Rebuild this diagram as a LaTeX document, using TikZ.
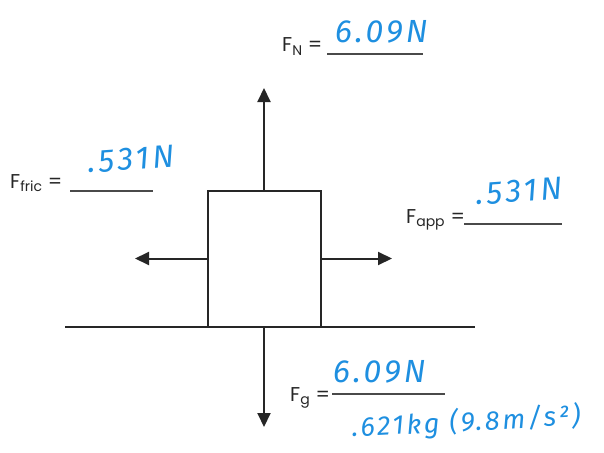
\documentclass[tikz,border=0pt]{standalone}
\usepackage{fontspec}
\setmainfont{Poppins}
\newfontfamily\handfont[LetterSpace=10]{Fira Sans}
\usetikzlibrary{arrows.meta, positioning}
\definecolor{inkdark}{HTML}{262626}
\definecolor{inkgrey}{HTML}{4A4A4A}
\definecolor{inkblue}{HTML}{1E8FE0}

\begin{document}
\begin{tikzpicture}[x=1pt, y=-1pt,
    force/.style={inkdark, line width=2pt, -{Triangle[length=14pt, width=13pt]}},
    printed/.style={font=\fontsize{20}{24}\selectfont, text=inkdark, inner sep=0pt,
                    anchor=base west},
    answer/.style={font=\handfont\itshape\fontsize{32}{36}\selectfont, text=inkblue,
                   inner sep=0pt, anchor=base west}]
  \useasboundingbox (0,0) rectangle (604,452);
  % block on the floor
  \node[draw=inkdark, line width=2pt, minimum width=113pt, minimum height=136pt,
        inner sep=0pt] (block) at (264,258.5) {};
  \coordinate (floorW) at (65,326.5);
  \coordinate (floorE) at (475,326.5);
  \draw[inkdark, line width=2pt] (floorW) -- (floorE);
  % force arrows
  \coordinate (tipN) at (264,88);
  \coordinate (tipG) at (264,427);
  \coordinate (tipF) at (135,258.5);
  \coordinate (tipA) at (392,258.5);
  \foreach \side/\tip in {north/tipN, south/tipG, west/tipF, east/tipA}
    \draw[force] (block.\side) -- (\tip);
  % printed labels and blanks
  \foreach \key/\lab/\x/\y in {fn/{F\textsubscript{N} =}/282/52,
                               ffric/{F\textsubscript{fric} =}/10/188,
                               fapp/{F\textsubscript{app} =}/406/223,
                               fg/{F\textsubscript{g} =}/290/401}
    \node[printed] (\key) at (\x,\y) {\lab};
  \foreach \key/\x/\y/\len in {fn/327/53/96, ffric/70/190/83,
                               fapp/464/223/98, fg/332/393/113}
    \node[anchor=north west, inner sep=0pt] (\key blank) at (\x,\y)
      {\color{inkgrey}\rule{\len pt}{1.4pt}};
  % handwritten answers
  \node[answer] (fnval) at (335,42) {6.09N};
  \node[answer, rotate=4] (ffricval) at (88,173) {.531N};
  \node[answer, rotate=4] (fappval) at (476,205) {.531N};
  \node[answer] (fgval) at (333,382) {6.09N};
  \node[answer, font=\handfont\itshape\fontsize{27}{30}\selectfont, rotate=3]
    (fgmass) at (352,437) {.621kg (9.8m/s²)};
\end{tikzpicture}
\end{document}
